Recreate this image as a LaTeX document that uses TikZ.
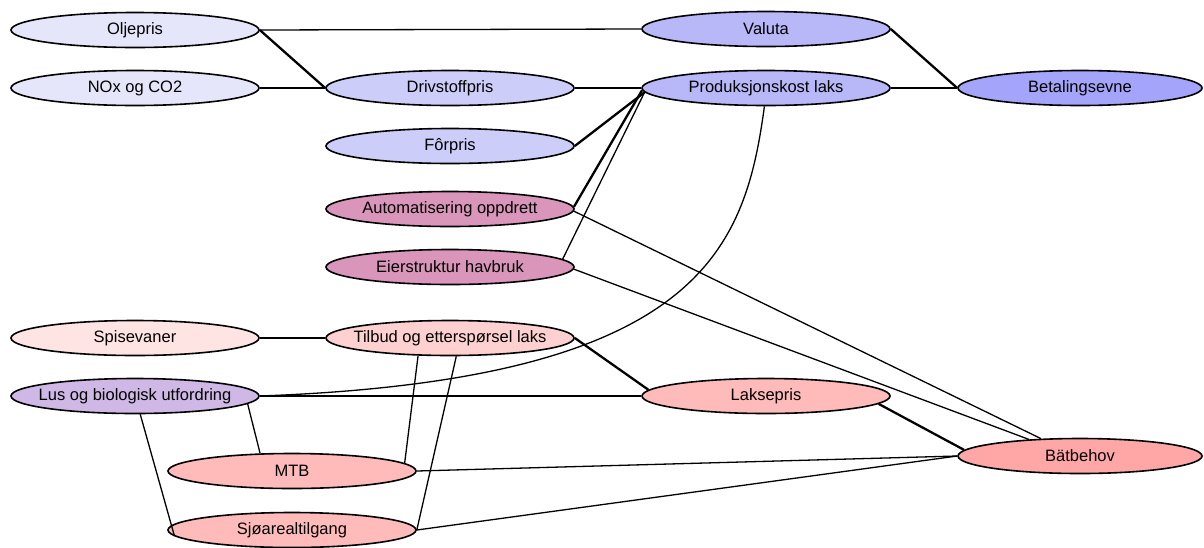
\documentclass[tikz,border=0pt]{standalone}
\usepackage{fontspec}
\setmainfont{Liberation Sans}
\usetikzlibrary{shapes.geometric}
\definecolor{cA}{HTML}{E6E6FA}
\definecolor{cB}{HTML}{CDCDFA}
\definecolor{cC}{HTML}{B8B8F8}
\definecolor{cD}{HTML}{A4A4FA}
\definecolor{cE}{HTML}{D995BA}
\definecolor{cF}{HTML}{FFE4E4}
\definecolor{cG}{HTML}{FFD0D0}
\definecolor{cH}{HTML}{FFBABA}
\definecolor{cI}{HTML}{FFA6A6}
\definecolor{cJ}{HTML}{D0B8E6}
\begin{document}
\begin{tikzpicture}[x=1pt,y=-1pt,
  el/.style={ellipse,draw=black,line width=1.6pt,minimum width=248pt,minimum height=35pt,inner xsep=-40pt,inner ysep=0pt,font=\fontsize{16.5}{19}\selectfont},
  edge/.style={line width=1.3pt},
  dbl/.style={line width=2.3pt}]
\useasboundingbox (0,0) rectangle (1204,547);
\node[el,fill=cA] (olje) at (135,30) {Oljepris};
\node[el,fill=cA] (nox) at (135,88) {NOx og CO2};
\node[el,fill=cC] (val) at (766,29) {Valuta};
\node[el,fill=cB] (driv) at (450,88) {Drivstoffpris};
\node[el,fill=cC] (prod) at (766,88) {Produksjonskost laks};
\node[el,fill=cD,minimum width=244pt] (bet) at (1080,88) {Betalingsevne};
\node[el,fill=cB] (forp) at (450,146) {Fôrpris};
\node[el,fill=cE] (auto) at (450,209) {Automatisering oppdrett};
\node[el,fill=cE] (eier) at (450,267) {Eierstruktur havbruk};
\node[el,fill=cF] (spis) at (135,338) {Spisevaner};
\node[el,fill=cG] (tilb) at (450,338) {Tilbud og etterspørsel laks};
\node[el,fill=cJ] (lus) at (135,396) {Lus og biologisk utfordring};
\node[el,fill=cH] (lak) at (766,396) {Laksepris};
\node[el,fill=cH] (mtb) at (292,471) {MTB};
\node[el,fill=cI,minimum width=244pt] (bat) at (1080,456) {Bätbehov};
\node[el,fill=cH] (sjo) at (292,530) {Sjøarealtilgang};
\draw[edge] (olje.east) -- (val.west);
\draw[dbl] (olje.east) -- (driv.west);
\draw[edge] (nox.east) -- (driv.west);
\draw[edge] (driv.east) -- (prod.west);
\draw[dbl] (val.east) -- (bet.west);
\draw[edge] (prod.east) -- (bet.west);
\draw[dbl] (forp.east) -- (prod.182);
\draw[dbl] (auto.1.8) -- (prod.181);
\draw[edge] (eier.4.4) -- (prod.182.5);
\draw[edge] (prod.265) .. controls (745,250) and (700,380) .. (lus.east);
\draw[edge] (auto.-1) -- (bat.156.5);
\draw[edge] (eier.-1.5) -- (bat.162.3);
\draw[dbl] (tilb.east) -- (lak.177.6);
\draw[edge] (spis.east) -- (tilb.west);
\draw[edge] (tilb.209.5) -- (mtb.4.9);
\draw[edge] (tilb.289) -- (sjo.east);
\draw[edge] (lus.-4.8) -- (mtb.151.3);
\draw[edge] (lus.286) -- (sjo.183);
\draw[edge] (lus.east) -- (lak.west);
\draw[dbl] (lak.-4) -- (bat.177);
\draw[edge] (mtb.east) -- (bat.west);
\draw[edge] (sjo.east) -- (bat.west);
\end{tikzpicture}
\end{document}
